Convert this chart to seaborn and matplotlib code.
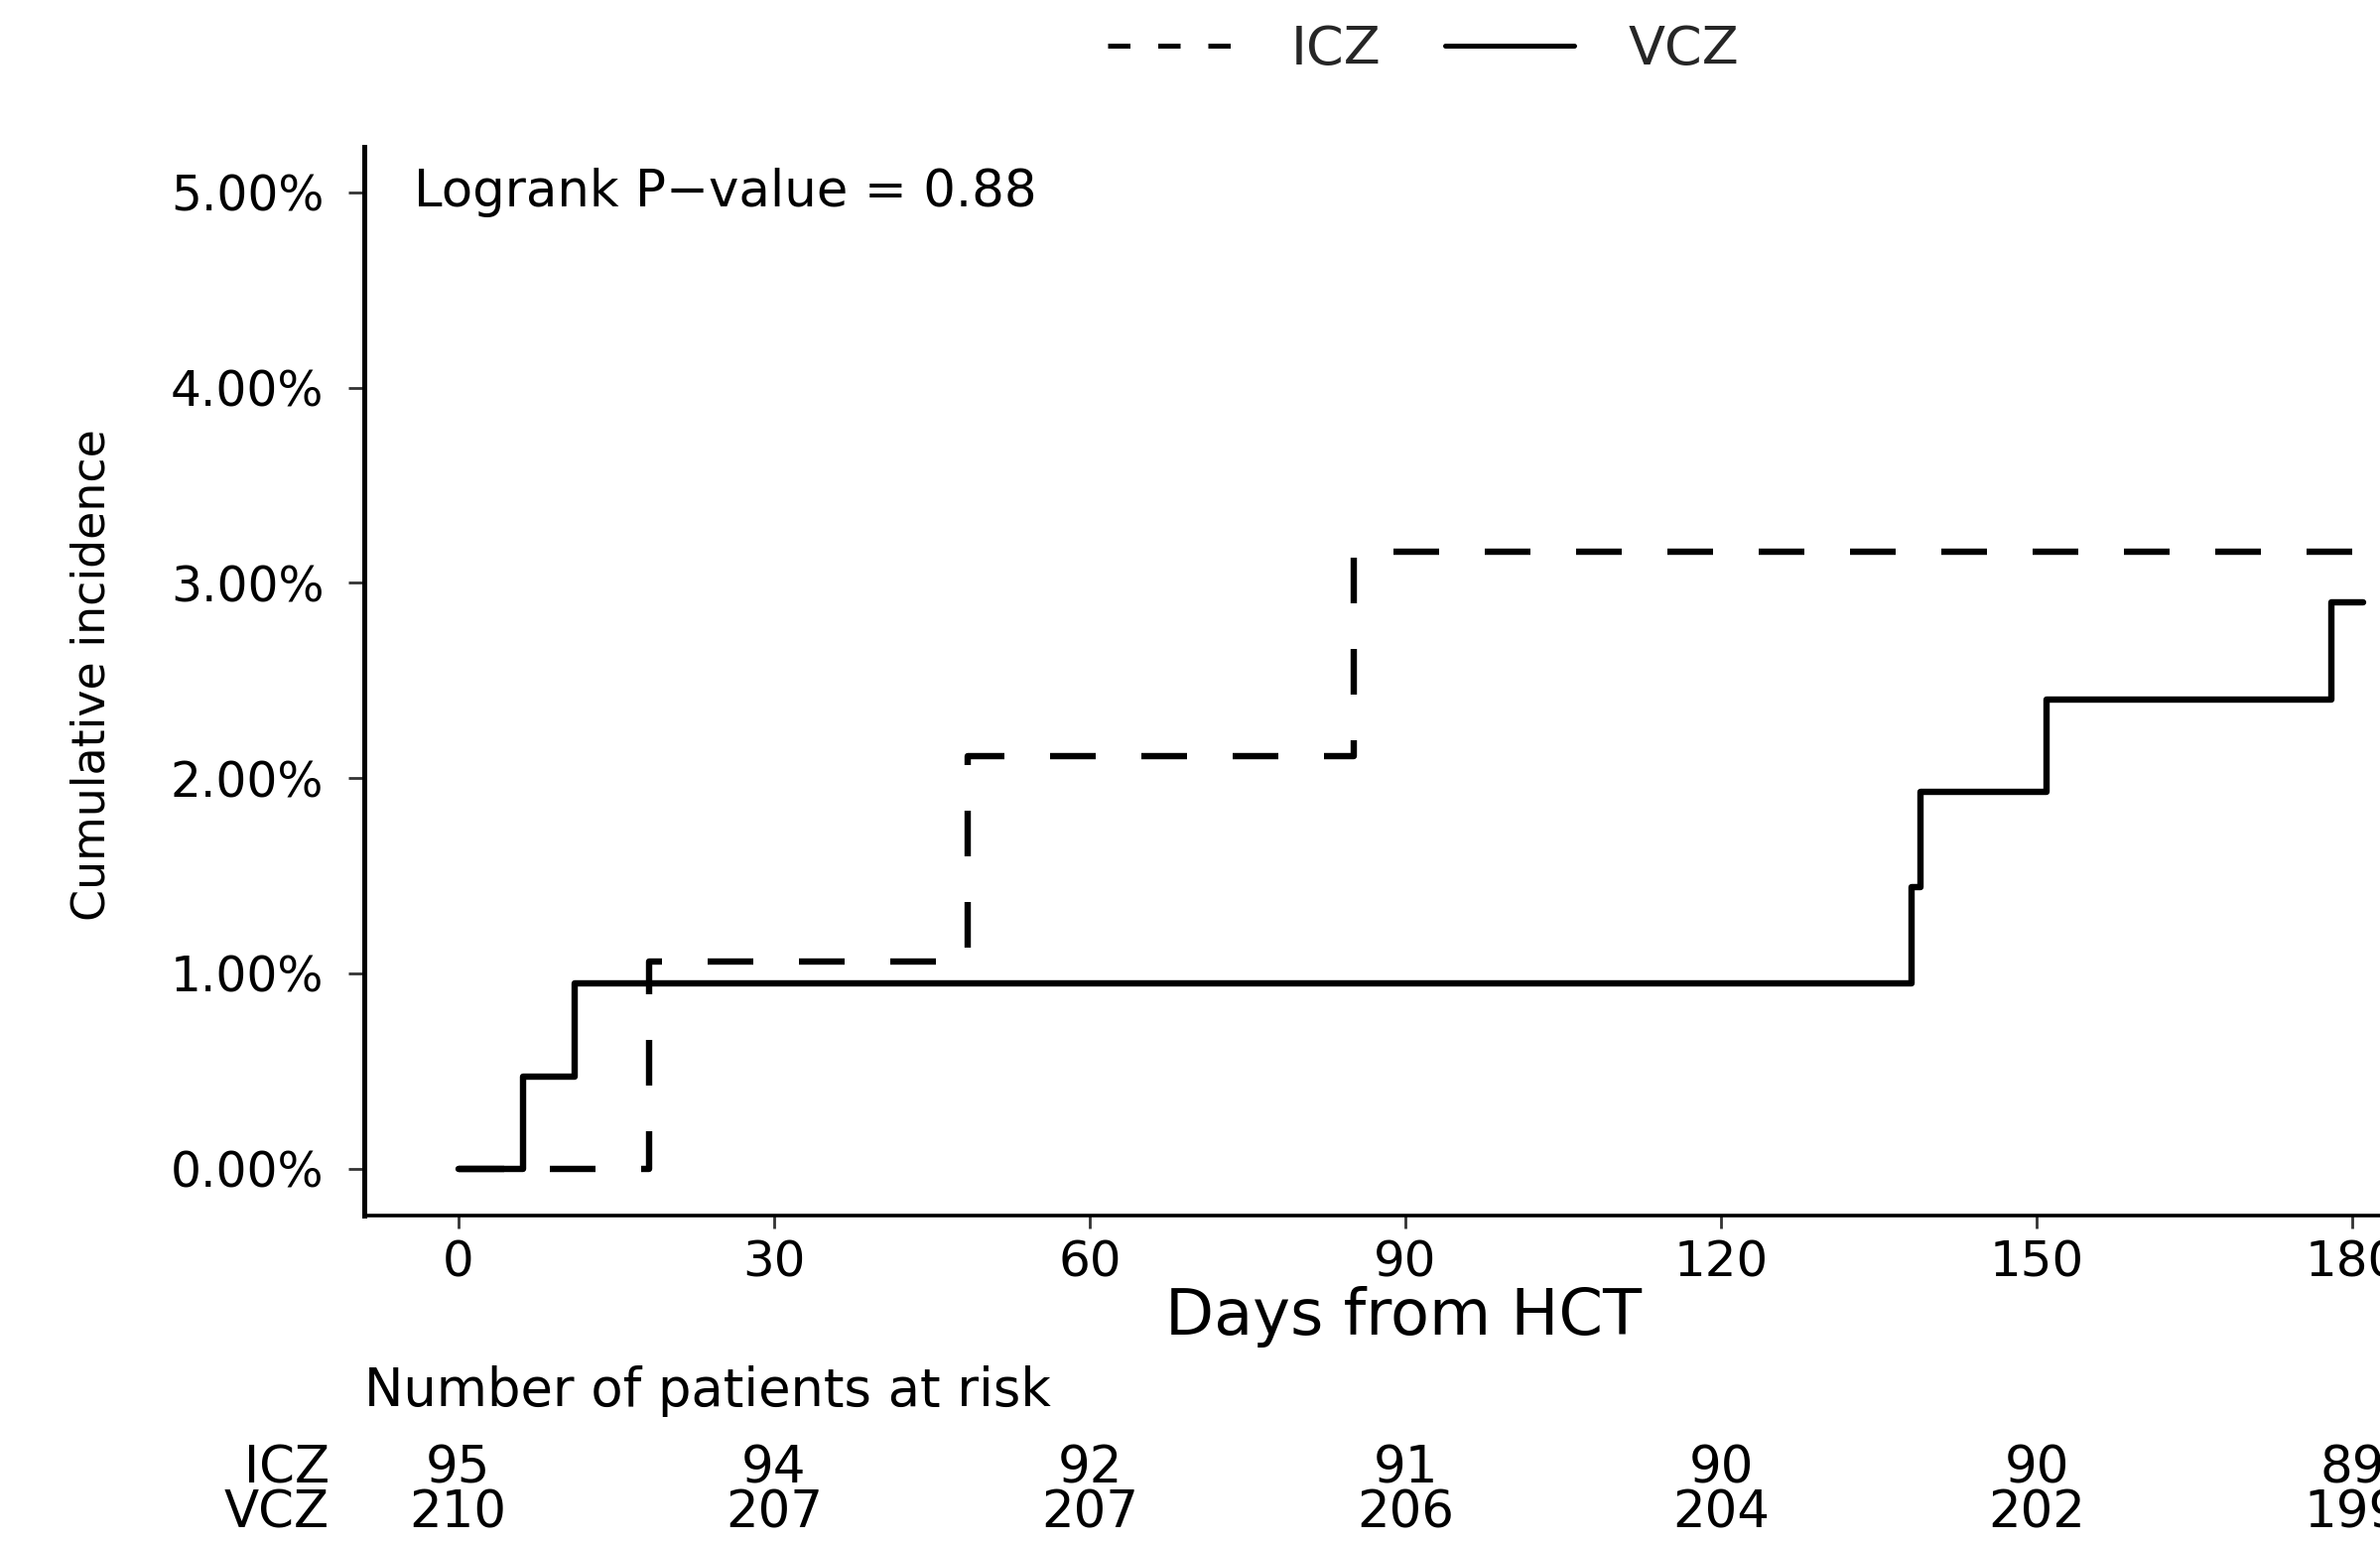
import matplotlib
matplotlib.use("Agg")
import matplotlib.pyplot as plt
import seaborn as sns
import pandas as pd
from matplotlib.lines import Line2D
from matplotlib.ticker import FuncFormatter, FixedLocator
import matplotlib.transforms as mtransforms

# ---- data ----
icz_days = [0, 18.1, 48.4, 85.1, 181]
icz_cuminc = [0.0, 1.06, 2.11, 3.16, 3.16]
vcz_days = [0, 6.2, 11.1, 138.1, 138.9, 150.9, 178.0, 181]
vcz_cuminc = [0.0, 0.47, 0.95, 1.44, 1.93, 2.40, 2.90, 2.90]

risk_times = [0, 30, 60, 90, 120, 150, 180]
risk_icz = [95, 94, 92, 91, 90, 90, 89]
risk_vcz = [210, 207, 207, 206, 204, 202, 199]
y_ticks = [0, 1, 2, 3, 4, 5]
groups = ["ICZ", "VCZ"]

df = pd.concat([
    pd.DataFrame({"days": icz_days, "cuminc": icz_cuminc, "group": "ICZ"}),
    pd.DataFrame({"days": vcz_days, "cuminc": vcz_cuminc, "group": "VCZ"}),
], ignore_index=True)

sns.set_theme(style="white")
plt.rcParams["font.family"] = ["DejaVu Sans"]

fig = plt.figure(figsize=(11.99, 7.78), dpi=200)
ax = fig.add_axes([0.153, 0.2127, 0.847, 0.6922])

lw = 2.3
sns.lineplot(data=df, x="days", y="cuminc", hue="group", style="group",
             palette={"ICZ": "black", "VCZ": "black"},
             dashes={"ICZ": (7.2, 7.2), "VCZ": ""},
             estimator=None, sort=False, drawstyle="steps-post",
             linewidth=lw, legend=False, ax=ax)

ax.set_xlim(-8.94, 182.6)
ax.set_ylim(-0.241, 5.233)

ax.xaxis.set_major_locator(FixedLocator(risk_times))
ax.yaxis.set_major_locator(FixedLocator(y_ticks))
ax.yaxis.set_major_formatter(FuncFormatter(lambda v, p: f"{v:.2f}%"))

for s in ["top", "right"]:
    ax.spines[s].set_visible(False)
ax.spines["left"].set_linewidth(1.8)
ax.spines["bottom"].set_linewidth(1.3)
ax.spines["left"].set_color("black")
ax.spines["bottom"].set_color("black")

ax.tick_params(axis="y", which="major", left=True, direction="out", length=5.6,
               width=1.0, color="#333333", pad=9, labelsize=17.5, labelcolor="black")
ax.tick_params(axis="x", which="major", bottom=True, direction="out", length=4.5,
               width=1.0, color="#333333", pad=4, labelsize=18, labelcolor="black")
ax.grid(False)

ax.set_xlabel("Days from HCT", fontsize=23, color="black")
ax.xaxis.set_label_coords(0.5155, -0.066)
ax.set_ylabel("Cumulative incidence", fontsize=16.5, color="black")
ax.yaxis.set_label_coords(-0.124, 0.506)

ax.text(-4.2, 5.0, "Logrank P\u2212value = 0.88", fontsize=18.5, va="center", ha="left",
        color="black")

# legend
handles = [Line2D([], [], color="black", lw=1.8, linestyle=(0, (4.5, 5.6))),
           Line2D([], [], color="black", lw=1.8, linestyle="-")]
fig.legend(handles, groups, loc="center", bbox_to_anchor=(0.598, 0.968), ncol=2,
           frameon=False, fontsize=19.5, handlelength=2.4, handletextpad=1.0,
           columnspacing=1.2)

# risk table
trans = mtransforms.blended_transform_factory(ax.transData, fig.transFigure)
fig.text(0.153, 0.099, "Number of patients at risk", fontsize=19, ha="left",
         va="center", color="black")
fig.text(0.1385, 0.0488, "ICZ", fontsize=18.5, ha="right", va="center", color="black")
fig.text(0.1385, 0.0193, "VCZ", fontsize=18.5, ha="right", va="center", color="black")
for t, a, b in zip(risk_times, risk_icz, risk_vcz):
    ax.text(t, 0.0488, str(a), transform=trans, fontsize=18.5, ha="center",
            va="center", color="black", clip_on=False)
    ax.text(t, 0.0193, str(b), transform=trans, fontsize=18.5, ha="center",
            va="center", color="black", clip_on=False)

fig.savefig("out.png", dpi=200, facecolor="white")
